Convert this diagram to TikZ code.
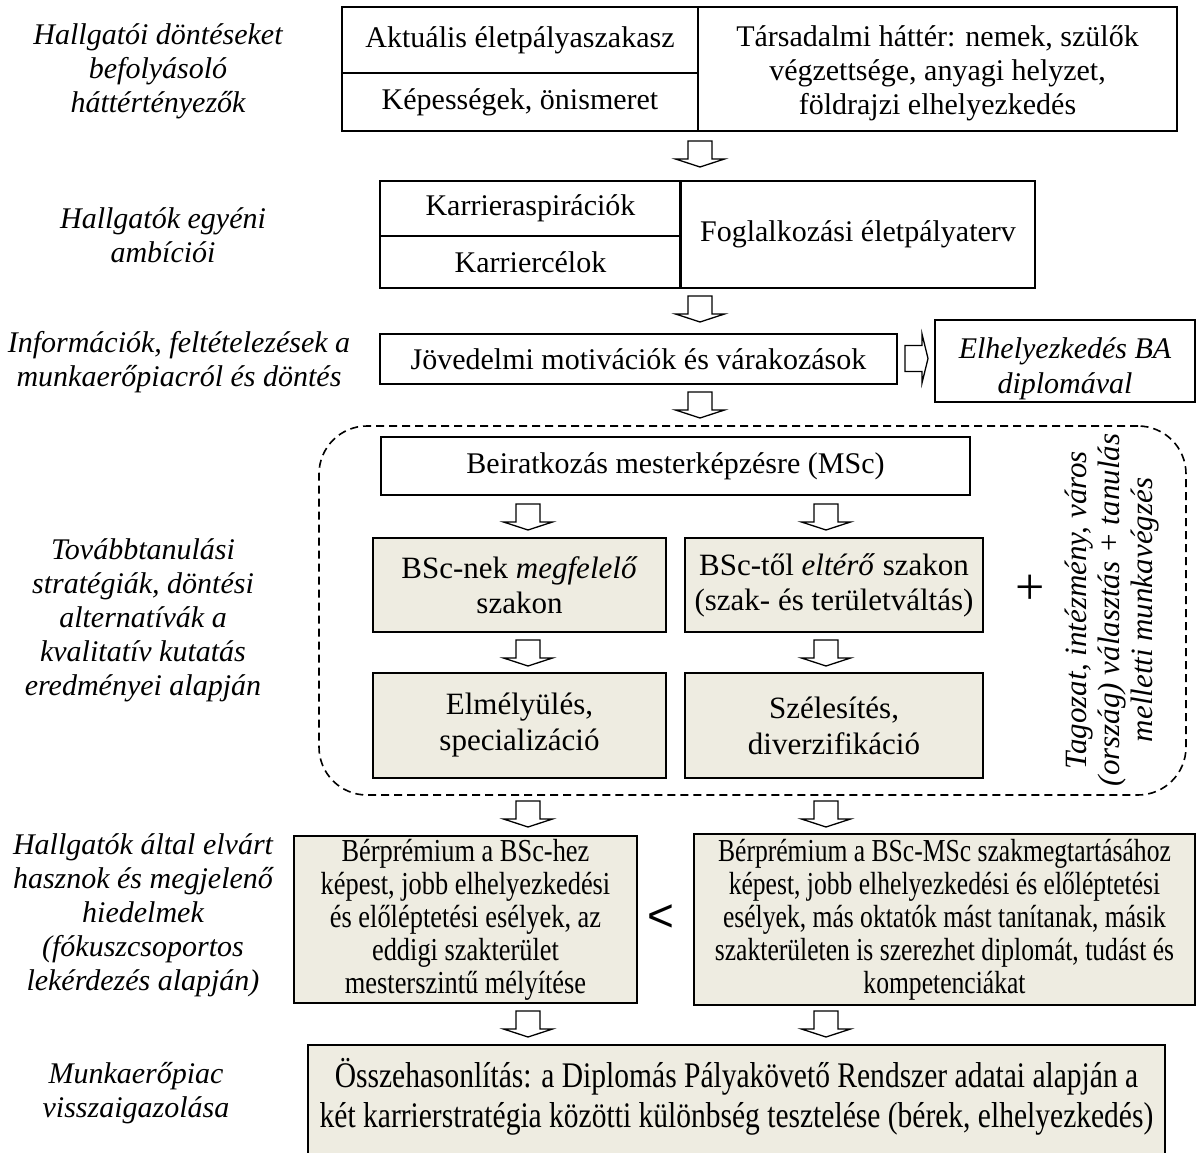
\documentclass[tikz,border=0pt]{standalone}
\usepackage{fontspec}
\setmainfont{Liberation Serif}
\newfontfamily\condA{Liberation Serif}[FakeStretch=0.825]
\newfontfamily\condB{Liberation Serif}[FakeStretch=0.80]
\newfontfamily\condC{Liberation Serif}[FakeStretch=0.82]
\newfontfamily\sansfont{Liberation Sans}
\definecolor{beige}{HTML}{EEECE1}
\begin{document}
\begin{tikzpicture}[x=1pt,y=-1pt,
  every node/.style={align=center, inner sep=0pt, font=\fontsize{30}{34}\selectfont},
  box/.style 2 args={draw, line width=1.7pt, minimum width=#1pt, minimum height=#2pt},
  shaded/.style={fill=beige},
  lab/.style={font=\fontsize{30}{34}\selectfont\itshape},
  arrowline/.style={draw, line width=1.3pt, fill=white, line join=miter},
  downarr/.pic={\path[arrowline] (-12,0) -- (12,0) -- (12,18) -- (24.5,18) -- (0,26)
      -- (-24.5,18) -- (-12,18) -- cycle;},
  rightarr/.pic={\path[arrowline] (0,-13) -- (17,-13) -- (17,-24.5) -- (23,0)
      -- (17,24.5) -- (17,13) -- (0,13) -- cycle;}
]
\useasboundingbox (0,0) rectangle (1196,1153);
\clip (0,0) rectangle (1196,1153);

% ---- row labels (left column)
\node[lab] (l1) at (158,71) {Hallgatói döntéseket\\befolyásoló\\háttértényezők};
\node[lab] (l2) at (163,235) {Hallgatók egyéni\\ambíciói};
\node[lab] (l3) at (179,362) {Információk, feltételezések a\\munkaerőpiacról és döntés};
\node[lab] (l4) at (143,620) {Továbbtanulási\\stratégiák, döntési\\alternatívák a\\kvalitatív kutatás\\eredményei alapján};
\node[lab] (l5) at (143,915) {Hallgatók által elvárt\\hasznok és megjelenő\\hiedelmek\\(fókuszcsoportos\\lekérdezés alapján)};
\node[lab] (l6) at (136,1093) {Munkaerőpiac\\visszaigazolása};

% ---- background factors
\node[box={356}{66}] (akt) at (520,40) {Aktuális életpályaszakasz};
\node[box={356}{58}] (kep) at (520,102) {Képességek, önismeret};
\node[box={479}{124}] (tars) at (937.5,69) {};
\node (tarst) at ([yshift=-4pt]tars.center) {Társadalmi háttér: nemek, szülők\\végzettsége, anyagi helyzet,\\földrajzi elhelyezkedés};

\pic at (700,141) {downarr};

% ---- individual ambitions
\node[box={301}{55}] (asp) at (530.5,208.5) {Karrieraspirációk};
\node[box={301}{52}] (cel) at (530.5,262) {Karriercélok};
\node[box={354}{107}] (terv) at (858,234.5) {Foglalkozási életpályaterv};
\draw[line width=2.6pt] (terv.north west) -- (terv.south west);

\pic at (700,296) {downarr};

% ---- income motivation
\node[box={517}{50}] (jov) at (638.5,359) {Jövedelmi motivációk és várakozások};
\node[box={260}{82}] (elh) at (1065,361) {};
\node[font=\fontsize{30}{35}\selectfont\itshape] (elht) at ([yshift=-8pt]elh.center) {Elhelyezkedés BA\\diplomával};
\pic at (905,358.5) {rightarr};

\pic at (700,392) {downarr};

% ---- further study strategies
\node[draw, dashed, dash pattern=on 8pt off 5pt, line width=1.6pt, rounded corners=48pt,
      minimum width=867pt, minimum height=369pt] (strat) at (752.5,610.5) {};
\node[box={589}{58}] (beir) at (675.5,466) {Beiratkozás mesterképzésre (MSc)};

\pic at (528,504) {downarr};
\pic at (826,504) {downarr};

\node[box={293}{94}, shaded, font=\fontsize{31}{35}\selectfont] (meg) at (519.5,585) {BSc-nek \textit{megfelelő}\\szakon};
\node[box={298}{94}, shaded, font=\fontsize{31}{35}\selectfont] (elt) at (834,585) {BSc-től \textit{eltérő} szakon\\(szak- és területváltás)};
\node[font=\fontsize{52}{52}\selectfont] (plus) at (1030,590) {+};

\pic at (528,640) {downarr};
\pic at (826,640) {downarr};

\node[box={293}{105}, shaded, font=\fontsize{31}{36}\selectfont] (elm) at (519.5,725.5) {Elmélyülés,\\specializáció};
\node[box={298}{105}, shaded, font=\fontsize{31}{36}\selectfont] (szel) at (834,725.5) {Szélesítés,\\diverzifikáció};

\node[rotate=90, font=\fontsize{31}{33}\selectfont\itshape] (side) at (1112,610)
  {Tagozat, intézmény, város\\(ország) választás + tanulás\\melletti munkavégzés};

\pic at (528,801) {downarr};
\pic at (826,801) {downarr};

% ---- expected benefits
\node[box={343}{167}, shaded, font=\condA\fontsize{32}{33}\selectfont] (ber1) at (465.5,919.5)
  {Bérprémium a BSc-hez\\képest, jobb elhelyezkedési\\és előléptetési esélyek, az\\eddigi szakterület\\mesterszintű mélyítése};
\node[font=\sansfont\fontsize{46}{46}\selectfont] (lt) at (661,918) {<};
\node[box={501}{171}, shaded, font=\condB\fontsize{32}{33}\selectfont] (ber2) at (944.5,919.5)
  {Bérprémium a BSc-MSc szakmegtartásához\\képest, jobb elhelyezkedési és előléptetési\\esélyek, más oktatók mást tanítanak, másik\\szakterületen is szerezhet diplomát, tudást és\\kompetenciákat};

\pic at (528,1011) {downarr};
\pic at (826,1011) {downarr};

% ---- labour market check (box runs past the lower page edge)
\node[box={857}{130}, shaded] (ossz) at (736.5,1110) {};
\node[font=\condC\fontsize{36}{40}\selectfont] (osszt) at (736.5,1097)
  {Összehasonlítás: a Diplomás Pályakövető Rendszer adatai alapján a\\két karrierstratégia közötti különbség tesztelése (bérek, elhelyezkedés)};
\end{tikzpicture}
\end{document}
